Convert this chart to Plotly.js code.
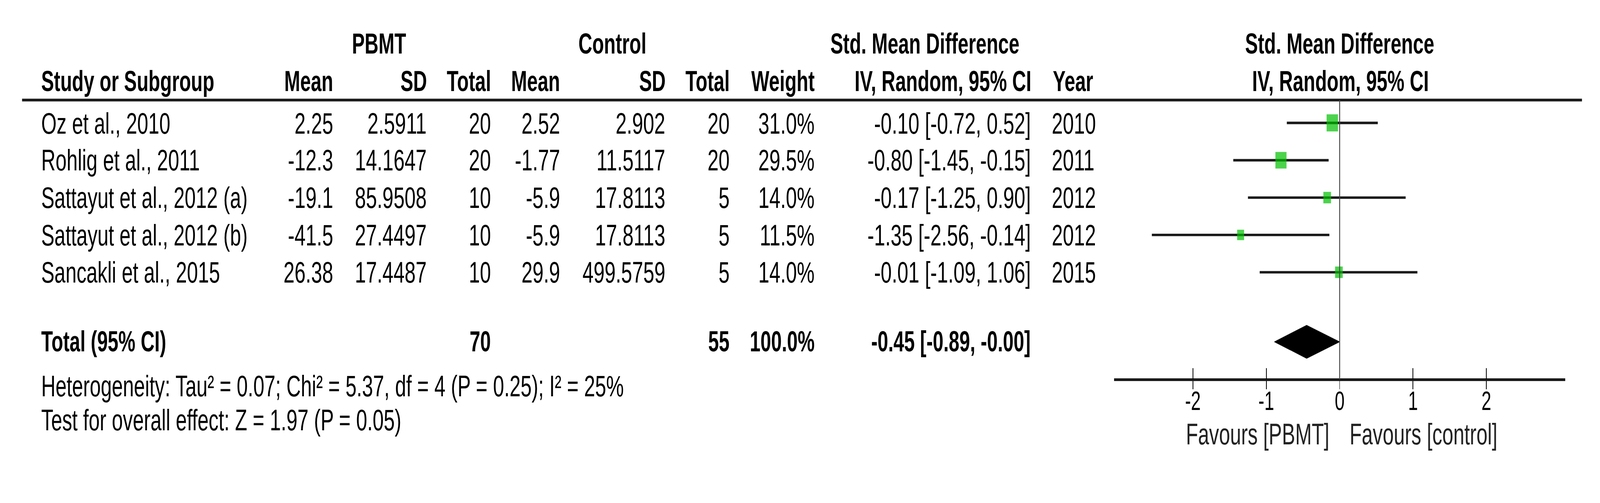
<!DOCTYPE html>
<html>
<head>
<meta charset="utf-8">
<script src="https://cdn.plot.ly/plotly-3.0.1.min.js"></script>
<style>
html,body{margin:0;padding:0;background:#fff;overflow:hidden;}
#wrap{position:relative;overflow:hidden;background:#fff;}
#chart{position:absolute;left:0;top:0;width:4351px;height:858px;transform-origin:0 0;}
</style>
</head>
<body>
<div id="wrap"><div id="chart"></div></div>
<script>
// ---------------- data ----------------
const studies   = ['Oz et al., 2010','Rohlig et al., 2011','Sattayut et al., 2012 (a)','Sattayut et al., 2012 (b)','Sancakli et al., 2015'];
const pbmtMean  = [2.25, -12.3, -19.1, -41.5, 26.38];
const pbmtSD    = [2.5911, 14.1647, 85.9508, 27.4497, 17.4487];
const pbmtN     = [20, 20, 10, 10, 10];
const ctrlMean  = [2.52, -1.77, -5.9, -5.9, 29.9];
const ctrlSD    = [2.902, 11.5117, 17.8113, 17.8113, 499.5759];
const ctrlN     = [20, 20, 5, 5, 5];
const weights   = [31.0, 29.5, 14.0, 11.5, 14.0];
const smd       = [-0.10, -0.80, -0.17, -1.35, -0.01];
const ciLow     = [-0.72, -1.45, -1.25, -2.56, -1.09];
const ciHigh    = [0.52, -0.15, 0.90, -0.14, 1.06];
const years     = [2010, 2011, 2012, 2012, 2015];
const totalPbmtN = 70;
const totalCtrlN = 55;
const totalWeight = 100.0;
const totalSmd  = -0.45;
const totalLow  = -0.89;
const totalHigh = -0.00;
const hetTau2 = 0.07, hetChi2 = 5.37, hetDf = 4, hetP = 0.25, hetI2 = 25;
const zValue = 1.97, zP = 0.05;
const tickVals   = [-2, -1, 0, 1, 2];
const tickLabels = ['-2', '-1', '0', '1', '2'];
const favLeft  = 'Favours [PBMT]';
const favRight = 'Favours [control]';

// ---------------- page scaling (design space 4351 x 1287, text stretched 1.5x vertically) ----------------
const DW = 4351, DH = 1287, STRETCH = 1.5;
const vw = window.innerWidth || DW, vh = window.innerHeight || DH;
const k = Math.min(vw / DW, vh / DH);
const wrap = document.getElementById('wrap');
wrap.style.width = vw + 'px';
wrap.style.height = vh + 'px';
document.getElementById('chart').style.transform = 'scale(' + k + ',' + (k * STRETCH) + ')';

// ---------------- layout constants ----------------
const P = v => v / DW;
const FONT = 'Liberation Sans, Arial, sans-serif';
const FS = 54, FSB = 52;
const ROW_H1 = -2.128, ROW_H2 = -1.123, ROW_RULE = -0.611;
const ROW_TOTAL = 5.862, ROW_AXIS = 6.867, ROW_HET = 7.034, ROW_TEST = 7.961, ROW_FAV = 8.33;
const Y_TOP = -3.291, Y_BOT = 9.389;
const axisPos = (Y_BOT - ROW_AXIS) / (Y_BOT - Y_TOP);

const fmt2 = v => ((v < 0 || Object.is(v, -0)) ? '-' : '') + Math.abs(v).toFixed(2);
const fmtCI = (e, l, h) => fmt2(e) + ' [' + fmt2(l) + ', ' + fmt2(h) + ']';

const ann = [];
function txt(text, x, y, anchor, bold, size, color) {
  ann.push({
    text: bold ? '<b>' + text + '</b>' : text,
    x: P(x), xref: 'paper', y: y, yref: 'y',
    xanchor: anchor, yanchor: 'middle', showarrow: false,
    font: {family: FONT, size: size || (bold ? FSB : FS), color: color || '#000'}
  });
}

// header row 1
txt('PBMT', 1031, ROW_H1, 'center', true);
txt('Control', 1665, ROW_H1, 'center', true);
txt('Std. Mean Difference', 2515, ROW_H1, 'center', true);
txt('Std. Mean Difference', 3643, ROW_H1, 'center', true);
// header row 2
txt('Study or Subgroup', 110, ROW_H2, 'left', true);
txt('Mean', 908, ROW_H2, 'right', true);
txt('SD', 1163, ROW_H2, 'right', true);
txt('Total', 1337, ROW_H2, 'right', true);
txt('Mean', 1525, ROW_H2, 'right', true);
txt('SD', 1812, ROW_H2, 'right', true);
txt('Total', 1986, ROW_H2, 'right', true);
txt('Weight', 2217, ROW_H2, 'right', true);
txt('IV, Random, 95% CI', 2807, ROW_H2, 'right', true);
txt('Year', 2861, ROW_H2, 'left', true);
txt('IV, Random, 95% CI', 3645, ROW_H2, 'center', true);

// study rows
studies.forEach((s, i) => {
  txt(s, 110, i, 'left', false);
  txt(String(pbmtMean[i]), 908, i, 'right', false);
  txt(String(pbmtSD[i]), 1162, i, 'right', false);
  txt(String(pbmtN[i]), 1337, i, 'right', false);
  txt(String(ctrlMean[i]), 1525, i, 'right', false);
  txt(String(ctrlSD[i]), 1811, i, 'right', false);
  txt(String(ctrlN[i]), 1986, i, 'right', false);
  txt(weights[i].toFixed(1) + '%', 2217, i, 'right', false);
  txt(fmtCI(smd[i], ciLow[i], ciHigh[i]), 2805, i, 'right', false);
  txt(String(years[i]), 2858, i, 'left', false);
});

// total row
txt('Total (95% CI)', 110, ROW_TOTAL, 'left', true);
txt(String(totalPbmtN), 1337, ROW_TOTAL, 'right', true);
txt(String(totalCtrlN), 1986, ROW_TOTAL, 'right', true);
txt(totalWeight.toFixed(1) + '%', 2217, ROW_TOTAL, 'right', true);
txt(fmtCI(totalSmd, totalLow, totalHigh), 2805, ROW_TOTAL, 'right', true);

txt('Heterogeneity: Tau² = ' + hetTau2.toFixed(2) + '; Chi² = ' + hetChi2.toFixed(2) + ', df = ' + hetDf +
    ' (P = ' + hetP.toFixed(2) + '); I² = ' + hetI2 + '%', 110, ROW_HET, 'left', false);
txt('Test for overall effect: Z = ' + zValue.toFixed(2) + ' (P = ' + zP.toFixed(2) + ')', 110, ROW_TEST, 'left', false);

txt(favLeft, 3617, ROW_FAV, 'right', false, FS, '#222');
txt(favRight, 3668, ROW_FAV, 'left', false, FS, '#222');

// ---------------- traces ----------------
const rowIdx = studies.map((_, i) => i);
const ciX = [], ciY = [];
rowIdx.forEach(i => { ciX.push(ciLow[i], ciHigh[i], null); ciY.push(i, i, null); });

const traces = [
  {type: 'scatter', mode: 'lines', x: ciX, y: ciY, xaxis: 'x', yaxis: 'y',
   line: {color: '#1a1a1a', width: 4.5}, hoverinfo: 'skip', showlegend: false},
  {type: 'scatter', mode: 'markers', x: smd, y: rowIdx, xaxis: 'x', yaxis: 'y',
   marker: {symbol: 'square', color: '#00c000', size: weights.map(w => 5.57 * Math.sqrt(w)), line: {width: 0}},
   showlegend: false},
  {type: 'scatter', mode: 'lines', fill: 'toself', fillcolor: '#000',
   x: [totalLow, totalSmd, totalHigh, totalSmd, totalLow],
   y: [ROW_TOTAL, ROW_TOTAL - 0.443, ROW_TOTAL, ROW_TOTAL + 0.443, ROW_TOTAL],
   line: {color: '#000', width: 1}, xaxis: 'x', yaxis: 'y', showlegend: false},
  {type: 'scatter', mode: 'markers', x: [0], y: [ROW_AXIS], xaxis: 'x2', yaxis: 'y',
   marker: {size: 0.1, opacity: 0}, hoverinfo: 'skip', showlegend: false}
];

const xRange = [-3.073, 3.073];
const xDomain = [P(3030), P(4256)];

const layout = {
  width: DW, height: DH / STRETCH,
  margin: {l: 0, r: 0, t: 0, b: 0, pad: 0},
  paper_bgcolor: '#fff', plot_bgcolor: 'rgba(0,0,0,0)',
  showlegend: false,
  xaxis: {
    domain: xDomain, range: xRange, anchor: 'free', position: axisPos,
    showgrid: false, zeroline: false, showline: true, linecolor: '#1a1a1a', linewidth: 5,
    tickmode: 'array', tickvals: tickVals, ticktext: tickLabels,
    ticks: 'outside', ticklen: 15, tickwidth: 2, tickcolor: '#000',
    ticklabelstandoff: -20,
    tickfont: {family: FONT, size: 48, color: '#000'}, fixedrange: true
  },
  xaxis2: {
    overlaying: 'x', range: xRange, anchor: 'free', position: axisPos,
    showgrid: false, zeroline: false, showline: false,
    tickmode: 'array', tickvals: tickVals, showticklabels: false,
    ticks: 'inside', ticklen: 20, tickwidth: 2, tickcolor: '#000', fixedrange: true
  },
  yaxis: {domain: [0, 1], range: [Y_BOT, Y_TOP], visible: false, fixedrange: true},
  shapes: [
    {type: 'line', xref: 'paper', yref: 'y', x0: P(60), x1: P(4302), y0: ROW_RULE, y1: ROW_RULE,
     line: {color: '#1a1a1a', width: 5}},
    {type: 'line', xref: 'x', yref: 'y', x0: 0, x1: 0, y0: ROW_RULE, y1: ROW_AXIS,
     line: {color: '#444', width: 2.5}}
  ],
  annotations: ann
};

Plotly.newPlot('chart', traces, layout, {displayModeBar: false, staticPlot: true});
</script>
</body>
</html>
